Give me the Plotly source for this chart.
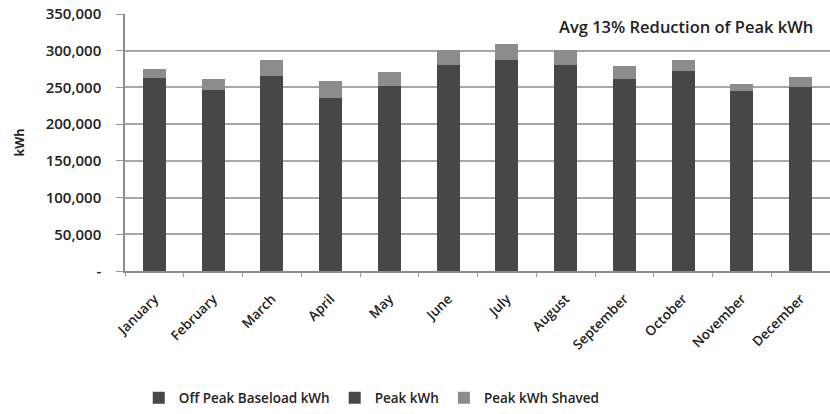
import plotly.graph_objects as go

months = ["January", "February", "March", "April", "May", "June",
          "July", "August", "September", "October", "November", "December"]
off_peak_kwh = [178000, 167000, 178000, 158000, 168000, 185000,
                190000, 185000, 174000, 182000, 165000, 168000]
peak_kwh = [85000, 80000, 88000, 78000, 84000, 95000,
            98000, 95000, 87000, 90000, 80000, 82000]
peak_shaved_kwh = [12700, 15000, 22000, 22500, 18700, 21300,
                   21500, 21000, 18000, 16000, 10000, 14500]

y_ticks = [0, 50000, 100000, 150000, 200000, 250000, 300000, 350000]
y_tick_text = ["-", "50,000", "100,000", "150,000", "200,000",
               "250,000", "300,000", "350,000"]

font_family = "'Open Sans', Lato, sans-serif"
text_color = "#222222"
dark = "#474747"
light = "#8c8c8c"

fig = go.Figure()
fig.add_trace(go.Bar(x=months, y=off_peak_kwh, name="Off Peak Baseload kWh",
                     marker=dict(color=dark, line=dict(width=0))))
fig.add_trace(go.Bar(x=months, y=peak_kwh, name="Peak kWh",
                     marker=dict(color=dark, line=dict(width=0))))
fig.add_trace(go.Bar(x=months, y=peak_shaved_kwh, name="Peak kWh Shaved",
                     marker=dict(color=light, line=dict(width=0))))

fig.update_layout(
    width=830, height=414,
    barmode="stack", bargap=0.61,
    margin=dict(l=125, r=0, t=14, b=141),
    paper_bgcolor="white", plot_bgcolor="white",
    font=dict(family=font_family, size=13, color=text_color),
    showlegend=True,
    legend=dict(orientation="h", x=0.35, xanchor="center", y=-0.494, yanchor="middle",
                font=dict(size=13.5, color=text_color, weight=600), traceorder="normal",
                itemwidth=30, tracegroupgap=0),
    xaxis=dict(
        type="category", tickangle=-45,
        ticks="outside", tickson="boundaries", ticklen=4, tickcolor="#999999",
        ticklabelstandoff=13,
        showline=True, linecolor="#8c8c8c", linewidth=1.5,
        showgrid=False,
        tickfont=dict(size=13.5, color=text_color, weight=600),
    ),
    yaxis=dict(
        range=[0, 350000], tickvals=y_ticks, ticktext=y_tick_text,
        ticks="outside", ticklen=7, tickcolor="#999999",
        ticklabelstandoff=12,
        showline=True, linecolor="#8c8c8c", linewidth=1.5,
        showgrid=True, gridcolor="#a6a6a6", gridwidth=1.5,
        zeroline=False,
        tickfont=dict(size=15, color=text_color, weight=600),
        title=dict(text="kWh", font=dict(size=12.5, color=text_color, weight=700), standoff=18),
    ),
)

# white panel behind the headline so the top gridline stops short of it
fig.add_shape(type="rect", xref="paper", yref="paper",
              x0=(545 - 125) / 705, x1=1.01, y0=(273 - 22) / 259, y1=(273 - 6) / 259,
              fillcolor="white", line=dict(width=0), layer="above")

fig.add_annotation(text="Avg 13% Reduction of Peak kWh", xref="paper", yref="paper",
                   x=0.979, y=0.95, xanchor="right", yanchor="middle",
                   showarrow=False, font=dict(size=16.5, color=text_color, weight=600))

fig.write_html("out.html")
